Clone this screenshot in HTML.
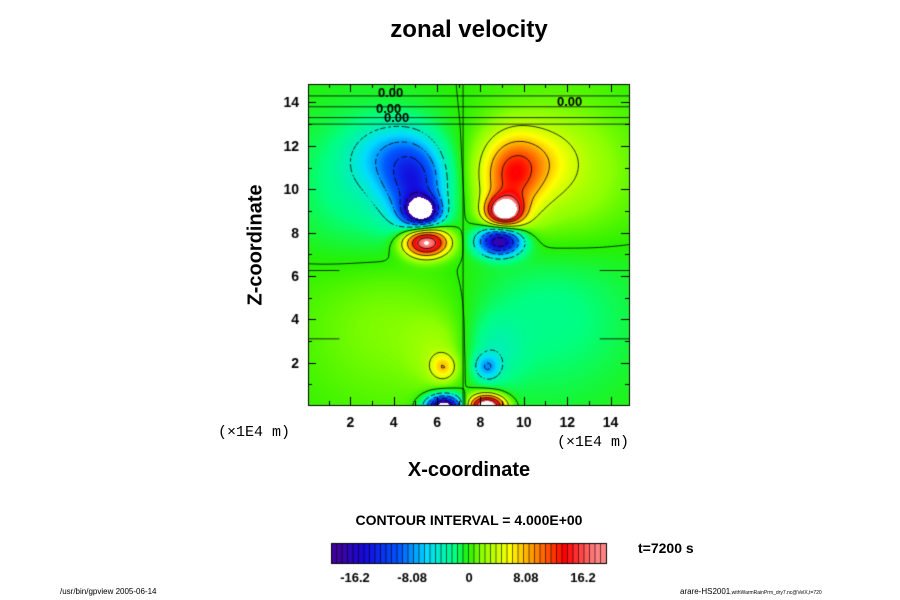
<!DOCTYPE html>
<html><head><meta charset="utf-8"><style>
body{margin:0;background:#fff;width:900px;height:600px;overflow:hidden;position:relative;font-family:"Liberation Sans",sans-serif}
.t{position:absolute;white-space:nowrap;font-weight:bold;color:#000}
canvas{position:absolute;left:0;top:0}
</style></head><body>
<canvas id="c" width="900" height="600"></canvas>
<div class="t" style="left:0;width:938px;text-align:center;top:16px;font-size:24px">zonal velocity</div>
<div class="t" style="left:256px;top:245px;font-size:20px;transform:translate(-50%,-50%) rotate(-90deg)">Z-coordinate</div>
<div class="t" style="left:0;width:938px;text-align:center;top:459px;font-size:20px">X-coordinate</div>
<div class="t" style="left:218px;top:424px;font-size:15px;font-weight:normal;font-family:'Liberation Mono',monospace">(×1E4 m)</div>
<div class="t" style="left:557px;top:434px;font-size:15px;font-weight:normal;font-family:'Liberation Mono',monospace">(×1E4 m)</div>
<div class="t" style="left:0;width:938px;text-align:center;top:512px;font-size:14px">CONTOUR INTERVAL = 4.000E+00</div>
<div class="t" style="left:638px;top:540px;font-size:14px">t=7200 s</div>
<div class="t" style="left:60px;top:587px;font-size:8px;font-weight:normal">/usr/bin/gpview 2005-06-14</div>
<div class="t" style="left:680px;top:587px;font-size:8px;font-weight:normal">arare-HS2001<span style="font-size:5px">,withWarmRainPrm_dry7.nc@VelX,t=720</span></div>
<script>
// field model: gaussian components
const blobX  =[5.0, 5.3, 9.4, 9.1, 5.5, 8.9, 3.0, 11.5, 6.3, 8.3, 6.2, 8.5, 6.3, 8.3, 4.0, 11.0, 3.8, 10.3];
const blobZ  =[10.2,9.0, 10.4,9.0, 7.55,7.6, 10.0,10.5, 1.8, 1.8, 2.5, 2.5, 0.0, 0.0, 4.0, 4.5, 11.5, 11.3];
const blobAmp=[-11,-19, 9, 21, 21,-19, -3, 3.5, 6,-6, 2,-2.5,-22, 24, 2,-2.5,-5, 4.5];
const blobSx =[0.95,0.55,0.95,0.55,0.7,0.7,2.5,2.5,0.4,0.4,1,1, 0.55,0.55,3,3,1.2,1.3];
const blobSz =[1.3, 0.45,1.3, 0.45,0.45,0.45,2.5,2.5,0.4,0.4,1.2,1.2,0.35,0.35,3,3,1.0,1.0];
const levels=[-16,-12,-8,-4,0,4,8,12,16];
const xTicks=[2,4,6,8,10,12,14];
const zTicks=[2,4,6,8,10,12,14];
const cbLabels=[-16.2,-8.08,0,8.08,16.2];
const cbLabelText=['-16.2','-8.08','0','8.08','16.2'];

const X0=308,X1=629,Y0=84,Y1=405, xmin=0.05,xmax=14.85,zmin=0.05,zmax=14.85;
const sx=x=>X0+(x-xmin)/(xmax-xmin)*(X1-X0);
const sz=z=>Y1-(z-zmin)/(zmax-zmin)*(Y1-Y0);
function field(x,z){let v=0;for(let i=0;i<blobX.length;i++){const dx=(x-blobX[i])/blobSx[i],dz=(z-blobZ[i])/blobSz[i];v+=blobAmp[i]*Math.exp(-0.5*(dx*dx+dz*dz));}return v;}
const stops=[[-20,[75,0,140]],[-15,[20,10,220]],[-10,[0,90,255]],[-6,[0,220,255]],[-2,[0,255,130]],[0,[40,240,0]],[2,[140,255,0]],[6,[255,255,0]],[10,[255,130,0]],[14,[255,0,0]],[18.5,[255,130,130]]];
function col(v){if(Math.abs(v)>19)return [255,255,255];if(v<=stops[0][0])return stops[0][1];for(let i=1;i<stops.length;i++){if(v<=stops[i][0]){const a=stops[i-1],b=stops[i],t=(v-a[0])/(b[0]-a[0]);return a[1].map((c,k)=>Math.round(c+(b[1][k]-c)*t));}}return stops[stops.length-1][1];}
const c=document.getElementById('c'),g=c.getContext('2d');
const W=X1-X0,H=Y1-Y0,img=g.createImageData(W,H);
for(let j=0;j<H;j++)for(let i=0;i<W;i++){const x=xmin+(i+0.5)/W*(xmax-xmin),z=zmax-(j+0.5)/H*(zmax-zmin);const cc=col(field(x,z));const p=(j*W+i)*4;img.data[p]=cc[0];img.data[p+1]=cc[1];img.data[p+2]=cc[2];img.data[p+3]=255;}
g.putImageData(img,X0,Y0);
// contours (marching squares)
const N=120,M=120,vals=[];
for(let j=0;j<=M;j++){vals.push([]);for(let i=0;i<=N;i++)vals[j].push(field(xmin+i/N*(xmax-xmin),zmin+j/M*(zmax-zmin)));}
g.lineWidth=0.8;g.strokeStyle='#000';
levels.forEach(L=>{g.beginPath();
for(let j=0;j<M;j++)for(let i=0;i<N;i++){if(L<0&&((i+j)%3===0))continue;const a=vals[j][i],b=vals[j][i+1],cc=vals[j+1][i+1],d=vals[j+1][i];const pts=[];
const e=(v1,v2,x1,z1,x2,z2)=>{if((v1-L)*(v2-L)<0){const t=(L-v1)/(v2-v1);pts.push([x1+(x2-x1)*t,z1+(z2-z1)*t]);}};
e(a,b,i,j,i+1,j);e(b,cc,i+1,j,i+1,j+1);e(cc,d,i+1,j+1,i,j+1);e(d,a,i,j+1,i,j);
for(let k=0;k+1<pts.length;k+=2){const p=pts[k],q=pts[k+1];g.moveTo(sx(xmin+p[0]/N*(xmax-xmin)),sz(zmin+p[1]/M*(zmax-zmin)));g.lineTo(sx(xmin+q[0]/N*(xmax-xmin)),sz(zmin+q[1]/M*(zmax-zmin)));}}
g.stroke();});
// extra structure lines
g.beginPath();g.moveTo(sx(7.2),Y0);g.lineTo(sx(7.2),Y1);
[13.0,13.3,13.8,14.3].forEach(z=>{g.moveTo(X0,sz(z));g.lineTo(X1,sz(z));});
g.moveTo(X0,sz(6.25));g.lineTo(sx(1.5),sz(6.25));g.moveTo(X0,sz(3.1));g.lineTo(sx(1.5),sz(3.1));
g.moveTo(sx(13.5),sz(3.1));g.lineTo(X1,sz(3.1));g.moveTo(sx(13.5),sz(6.25));g.lineTo(X1,sz(6.25));
g.stroke();
g.font='bold 13px "Liberation Sans"';g.fillStyle='#000';
[[378,97],[376,113],[384,122],[557,106]].forEach(p=>g.fillText('0.00',p[0],p[1]));
// frame & ticks
g.lineWidth=1;g.strokeRect(X0+0.5,Y0+0.5,W,H);
g.beginPath();
for(let v=1;v<=14;v++){const l=v%2?4:8;const x=Math.round(sx(v))+0.5,y=Math.round(sz(v))+0.5;
g.moveTo(x,Y1);g.lineTo(x,Y1-l);g.moveTo(x,Y0);g.lineTo(x,Y0+l);g.moveTo(X0,y);g.lineTo(X0+l,y);g.moveTo(X1,y);g.lineTo(X1-l,y);}
g.stroke();
g.font='bold 14px "Liberation Sans"';g.textAlign='center';
xTicks.forEach(v=>g.fillText(v,sx(v),427));
g.textAlign='right';zTicks.forEach(v=>g.fillText(v,299,sz(v)+5));
// colorbar
const CB0=331,CB1=606,CBy=543,CBh=20,cbMin=-20,cbMax=20,nb=50;
for(let k=0;k<nb;k++){const v=cbMin+(k+0.5)/nb*(cbMax-cbMin);const cc=col(Math.max(-18.9,Math.min(18.9,v)));g.fillStyle=`rgb(${cc})`;const x=CB0+k/nb*(CB1-CB0);g.fillRect(x,CBy,(CB1-CB0)/nb+0.5,CBh);}
g.strokeStyle='#000';g.lineWidth=0.6;g.beginPath();for(let k=1;k<nb;k++){const x=CB0+k/nb*(CB1-CB0);g.moveTo(x,CBy);g.lineTo(x,CBy+CBh);}g.stroke();
g.lineWidth=1;g.strokeRect(CB0+0.5,CBy+0.5,CB1-CB0,CBh);
g.fillStyle='#000';g.textAlign='center';g.font='bold 13px "Liberation Sans"';
const cbx=v=>469+v*(583-469)/16.2;
cbLabels.forEach((v,i)=>g.fillText(cbLabelText[i],cbx(v),582));
</script>
</body></html>
